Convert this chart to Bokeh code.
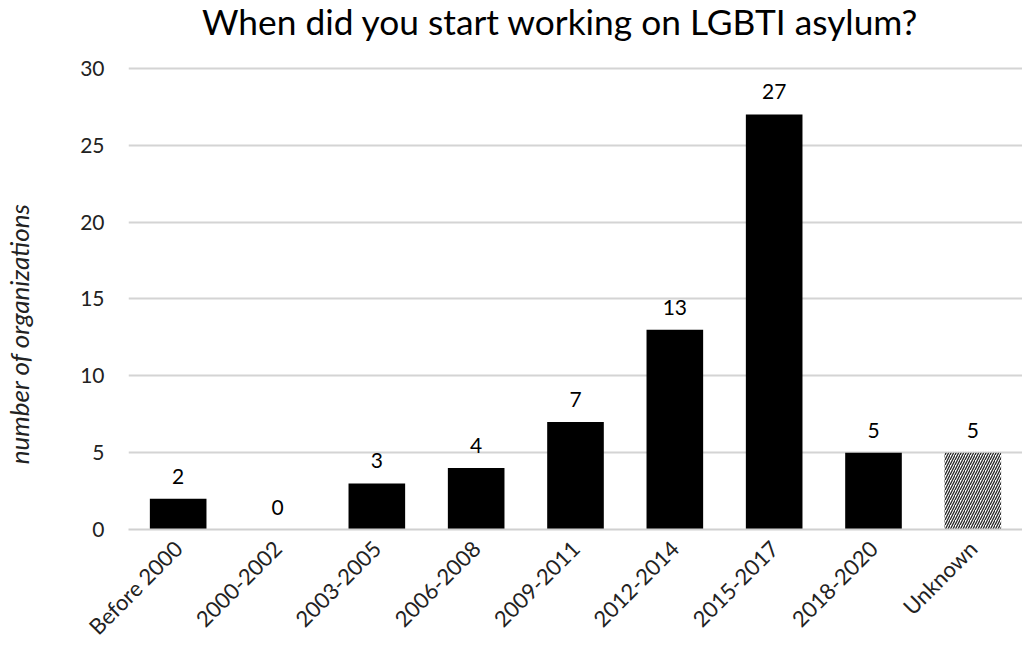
import math
from bokeh.plotting import figure
from bokeh.models import ColumnDataSource, Range1d, FixedTicker, LabelSet
from bokeh.core.properties import value
from bokeh.embed import file_html
from bokeh.resources import INLINE

categories = ["Before 2000", "2000-2002", "2003-2005", "2006-2008", "2009-2011",
              "2012-2014", "2015-2017", "2018-2020", "Unknown"]
counts = [2, 0, 3, 4, 7, 13, 27, 5, 5]
y_ticks = [0, 5, 10, 15, 20, 25, 30]
title_text = "When did you start working on LGBTI asylum?"
y_label = "number of organizations"

FONT = "Lato"

# layout (pixels)
W, H = 1022, 652
FRAME_BOTTOM_BORDER = 122
TOP_OF_AXIS_PX = 68          # where the 30 gridline sits, from the top of the canvas
frame_h = H - FRAME_BOTTOM_BORDER
y_max = y_ticks[-1] * frame_h / (frame_h - TOP_OF_AXIS_PX)

known_cats = categories[:-1]
known_vals = counts[:-1]
unknown_cats = categories[-1:]
unknown_vals = counts[-1:]

p = figure(x_range=categories, y_range=Range1d(0, y_max), width=W, height=H,
           output_backend="svg", toolbar_location=None,
           min_border_left=128, min_border_right=0, min_border_top=0,
           min_border_bottom=FRAME_BOTTOM_BORDER)
p.outline_line_color = None
p.background_fill_color = "white"
p.border_fill_color = "white"

src_known = ColumnDataSource(dict(x=known_cats, top=known_vals))
src_unknown = ColumnDataSource(dict(x=unknown_cats, top=unknown_vals))
p.vbar(x="x", top="top", width=0.57, source=src_known, fill_color="#000000", line_color=None)
p.vbar(x="x", top="top", width=0.57, source=src_unknown, fill_color="#ffffff", line_color=None,
       hatch_pattern="/", hatch_color="#262626", hatch_scale=5, hatch_weight=1.3)

src_lab = ColumnDataSource(dict(x=categories, y=counts, t=[str(v) for v in counts]))
labels = LabelSet(x="x", y="y", text="t", source=src_lab, text_align="center",
                  text_baseline="bottom", y_offset=15, text_font=value(FONT),
                  text_font_size="21px", text_color="#000000")
p.add_layout(labels)

# chart title, placed above the top gridline
src_title = ColumnDataSource(dict(x=[categories[4]], y=[y_ticks[-1]], t=[title_text]))
title_lab = LabelSet(x="x", y="y", text="t", source=src_title, x_offset=-15, y_offset=33,
                     text_align="center", text_baseline="alphabetic", text_font=value(FONT),
                     text_font_size="35.3px", text_color="#000000")
p.add_layout(title_lab)

p.yaxis.ticker = FixedTicker(ticks=y_ticks)
p.yaxis.axis_line_color = None
p.yaxis.major_tick_line_color = None
p.yaxis.major_tick_out = 0
p.yaxis.major_tick_in = 0
p.yaxis.minor_tick_line_color = None
p.yaxis.major_label_text_font = FONT
p.yaxis.major_label_text_font_size = "21px"
p.yaxis.major_label_text_color = "#222222"
p.yaxis.major_label_standoff = 24
p.yaxis.axis_label = y_label + "\u2003" * 7 + "\u2002"
p.yaxis.axis_label_standoff = 42
p.yaxis.axis_label_text_font = FONT
p.yaxis.axis_label_text_font_size = "26px"
p.yaxis.axis_label_text_font_style = "italic"
p.yaxis.axis_label_text_color = "#222222"

p.xaxis.axis_line_color = "#d0d0d0"
p.xaxis.axis_line_width = 2
p.xaxis.major_tick_line_color = None
p.xaxis.major_tick_out = 0
p.xaxis.major_tick_in = 0
p.xaxis.minor_tick_line_color = None
p.xaxis.major_label_orientation = math.pi / 4
p.xaxis.major_label_text_font = FONT
p.xaxis.major_label_text_font_size = "22px"
p.xaxis.major_label_text_color = "#222222"
p.xaxis.major_label_standoff = 15

p.xgrid.grid_line_color = None
p.ygrid.grid_line_color = "#d4d4d4"
p.ygrid.grid_line_width = 2

open("out.html", "w").write(file_html(p, INLINE))
